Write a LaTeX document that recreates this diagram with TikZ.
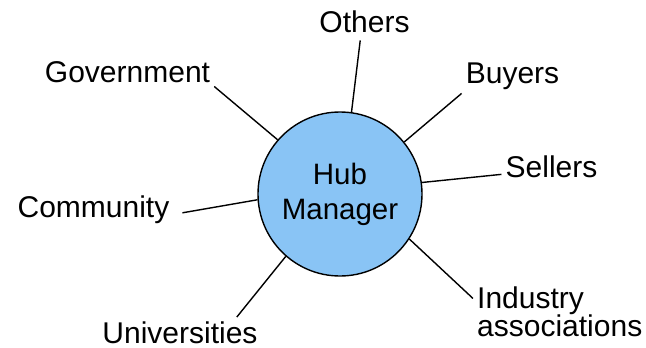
\documentclass[tikz,border=0pt]{standalone}
\usepackage{fontspec}
\setmainfont{Liberation Sans}
\definecolor{hubblue}{RGB}{137,196,245}

\begin{document}
\begin{tikzpicture}[x=1pt,y=-1pt,
  lbl/.style={inner sep=4pt,font=\fontsize{30}{28}\selectfont},
  spoke/.style={line width=1.4pt}]
\useasboundingbox (0,0) rectangle (646,348);
\node[circle,draw,line width=1.4pt,fill=hubblue,minimum size=164pt,inner sep=0pt,
  align=center,font=\fontsize{29.5}{35}\selectfont] (hub) at (340,194) {Hub\\Manager};
\node[lbl,anchor=base] (others) at (364.5,32) {Others};
\node[lbl,anchor=base] (gov) at (127.5,82) {Government};
\node[lbl,anchor=base] (buyers) at (512.5,83) {Buyers};
\node[lbl,anchor=base] (sellers) at (551.5,177) {Sellers};
\node[lbl,anchor=base] (community) at (93.5,217) {Community};
\node[lbl,anchor=base] (univ) at (180,343) {Universities};
\node[lbl,anchor=north west,align=left] (industry) at (473,283) {Industry\\associations};
\draw[spoke,shorten >=4pt] (hub.82) -- (others.256);
\draw[spoke] (hub.139) -- (gov.south east);
\draw[spoke] (hub.39) -- (buyers.south west);
\draw[spoke] (hub.8) -- (sellers.mid west);
\draw[spoke,shorten >=9pt] (hub.184) -- (community.mid east);
\draw[spoke] (hub.229) -- (univ.15);
\draw[spoke] (hub.327) -- (industry.171);
\end{tikzpicture}
\end{document}
